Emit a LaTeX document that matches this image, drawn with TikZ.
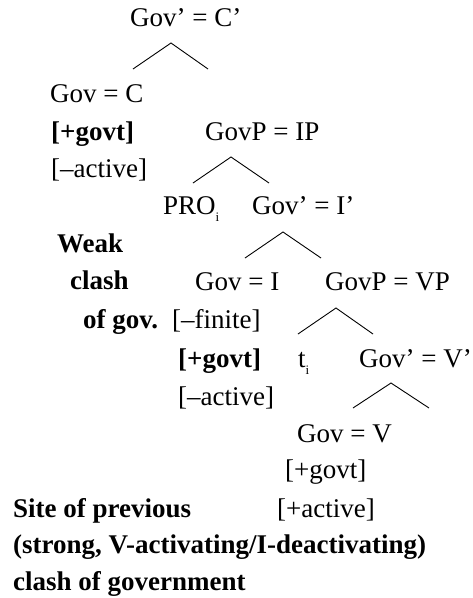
\documentclass[tikz,border=0pt]{standalone}
\usepackage{fontspec}
\setmainfont{Liberation Serif}
\newcommand{\sbi}{\raisebox{-7pt}{\fontsize{13}{13}\selectfont i}}
\begin{document}
\begin{tikzpicture}[x=1pt,y=-1pt,
  lbl/.style={anchor=base west,inner sep=0pt,font=\fontsize{27}{30}\selectfont},
  blbl/.style={lbl,font=\fontsize{27}{30}\selectfont\bfseries},
  branch/.style={line width=0.9pt}]
\useasboundingbox (0,0) rectangle (472,598);

% node labels
\node[lbl]  (cbar)   at (130,26)  {Gov’ = C’};
\node[lbl]  (govc)   at (50,102)  {Gov = C};
\node[blbl] (cgovt)  at (51,140)  {[+govt]};
\node[lbl]  (ip)     at (205,140) {GovP = IP};
\node[lbl]  (cact)   at (51,177)  {[–active]};
\node[lbl]  (pro)    at (163,214) {PRO\sbi};
\node[lbl]  (ibar)   at (252,214) {Gov’ = I’};
\node[blbl] (weak)   at (57,252)  {Weak};
\node[blbl] (clash)  at (70,289)  {clash};
\node[lbl]  (govi)   at (195,290) {Gov = I};
\node[lbl]  (vp)     at (325,290) {GovP = VP};
\node[blbl] (ofgov)  at (83,328)  {of gov.};
\node[lbl]  (ifin)   at (172,328) {[–finite]};
\node[blbl] (igovt)  at (178,367) {[+govt]};
\node[lbl]  (trace)  at (298,367) {t\sbi};
\node[lbl]  (vbar)   at (359,367) {Gov’ = V’};
\node[lbl]  (iact)   at (178,405) {[–active]};
\node[lbl]  (govv)   at (297,442) {Gov = V};
\node[lbl]  (vgovt)  at (285,478) {[+govt]};
\node[blbl] (site)   at (13,517)  {Site of previous};
\node[lbl]  (vact)   at (277,517) {[+active]};
\node[blbl] (strong) at (13,553)  {(strong, V-activating/I-deactivating)};
\node[blbl] (cgov)   at (13,590)  {clash of government};

% branch points
\coordinate (a0) at (171,43);  \coordinate (a1) at (133,69);  \coordinate (a2) at (208,69);
\coordinate (b0) at (231,157); \coordinate (b1) at (193,183); \coordinate (b2) at (269,183);
\coordinate (c0) at (283,232); \coordinate (c1) at (245,258); \coordinate (c2) at (321,258);
\coordinate (d0) at (336,308); \coordinate (d1) at (298,334); \coordinate (d2) at (373,334);
\coordinate (e0) at (391,383); \coordinate (e1) at (353,408); \coordinate (e2) at (429,408);

% branches
\foreach \t in {a,b,c,d,e}
  \draw[branch] (\t1) -- (\t0) -- (\t2);
\end{tikzpicture}
\end{document}
